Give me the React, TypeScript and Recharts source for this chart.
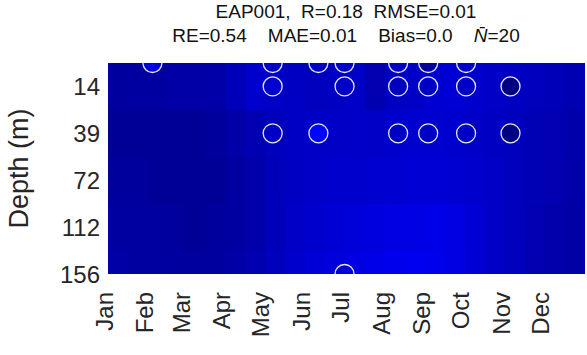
import React from "react";
import {
  ComposedChart,
  XAxis,
  YAxis,
  Scatter,
  ReferenceArea,
} from "recharts";

// axes
const months = ["Jan", "Feb", "Mar", "Apr", "May", "Jun", "Jul", "Aug", "Sep", "Oct", "Nov", "Dec"];
const monthStarts = [0, 31, 59, 90, 120, 151, 181, 212, 243, 273, 304, 334, 365];
const depthLabels = ["14", "39", "72", "112", "156"];
const depthLevels = [1, 2, 3, 4, 5];
const bandEdges = [0.5, 1.5, 2.5, 3.5, 4.5, 5];

// model field, half-month columns, one array per depth band
const field14 = [0.012, 0.013, 0.013, 0.015, 0.015, 0.016, 0.022, 0.03, 0.028, 0.026, 0.024, 0.026, 0.028, 0.019, 0.026, 0.028, 0.032, 0.033, 0.03, 0.028, 0.026, 0.024, 0.022, 0.02];
const field39 = [0.009, 0.009, 0.009, 0.009, 0.009, 0.011, 0.015, 0.02, 0.024, 0.027, 0.028, 0.028, 0.029, 0.028, 0.03, 0.031, 0.031, 0.03, 0.028, 0.026, 0.024, 0.021, 0.02, 0.017];
const field72 = [0.011, 0.011, 0.009, 0.009, 0.009, 0.009, 0.013, 0.017, 0.022, 0.026, 0.028, 0.03, 0.03, 0.031, 0.032, 0.033, 0.033, 0.032, 0.03, 0.028, 0.024, 0.021, 0.019, 0.016];
const field112 = [0.013, 0.013, 0.012, 0.011, 0.009, 0.011, 0.013, 0.017, 0.022, 0.028, 0.03, 0.033, 0.035, 0.037, 0.039, 0.04, 0.041, 0.038, 0.033, 0.028, 0.024, 0.02, 0.017, 0.015];
const field156 = [0.015, 0.013, 0.013, 0.012, 0.011, 0.012, 0.015, 0.019, 0.024, 0.03, 0.034, 0.036, 0.039, 0.041, 0.043, 0.044, 0.043, 0.039, 0.033, 0.028, 0.024, 0.019, 0.017, 0.015];

// observations
const obsDays = [34, 126, 161, 181, 222, 245, 274, 126, 181, 222, 245, 274, 308, 126, 161, 222, 245, 274, 308, 181];
const obsLevels = [0.5, 0.5, 0.5, 0.5, 0.5, 0.5, 0.5, 1, 1, 1, 1, 1, 1, 2, 2, 2, 2, 2, 2, 5];
const obsValues = [0.038, 0.028, 0.024, 0.028, 0.027, 0.013, 0.03, 0.03, 0.028, 0.024, 0.026, 0.028, 0.0, 0.028, 0.052, 0.027, 0.028, 0.028, 0.002, 0.035];

const cMin = 0;
const cMax = 0.4;

const jet = (v: number) => {
  const t = Math.max(0, Math.min(1, (v - cMin) / (cMax - cMin)));
  const c = (x: number) => Math.round(255 * Math.max(0, Math.min(1, x)));
  const r = c(1.5 - Math.abs(4 * t - 3));
  const g = c(1.5 - Math.abs(4 * t - 2));
  const b = c(1.5 - Math.abs(4 * t - 1));
  return `rgb(${r},${g},${b})`;
};

const fieldRows = [field14, field39, field72, field112, field156];

const columnEdges: number[] = [];
monthStarts.slice(0, 12).forEach((s, i) => {
  columnEdges.push(s, (s + monthStarts[i + 1]) / 2);
});
columnEdges.push(365);

const cells = fieldRows.flatMap((row, r) =>
  row.map((v, c) => ({
    x1: columnEdges[c],
    x2: columnEdges[c + 1],
    y1: bandEdges[r],
    y2: bandEdges[r + 1],
    v,
  }))
);

const obsData = obsDays.map((d, i) => ({ day: d, level: obsLevels[i], value: obsValues[i] }));

const font = "'Liberation Sans', Arial, sans-serif";

const MonthTick = (props: any) => {
  const { x, y, payload } = props;
  const idx = monthStarts.indexOf(payload.value);
  const tx = x - 4;
  const ty = y + 16;
  return (
    <text
      x={tx}
      y={ty}
      transform={`rotate(-90, ${tx}, ${ty})`}
      textAnchor="end"
      dominantBaseline="central"
      fontSize={24}
      fontFamily={font}
      fill="#262626"
    >
      {months[idx]}
    </text>
  );
};

const ObsDot = (props: any) => {
  const { cx, cy, payload } = props;
  return (
    <circle cx={cx} cy={cy} r={9.5} fill={jet(payload.value)} stroke="#e6e6f5" strokeWidth={1.3} />
  );
};

const Cell = (props: any) => {
  const { x, y, width, height, fill } = props;
  return <rect x={x} y={y} width={width} height={height} fill={fill} shapeRendering="crispEdges" />;
};

export default function App() {
  return (
    <div style={{ position: "absolute", left: 0, top: 0, width: 587, height: 355, background: "#fff" }}>
      <div
        style={{
          position: "absolute",
          left: 0,
          width: 692,
          top: 0,
          textAlign: "center",
          fontFamily: font,
          fontSize: 19,
          lineHeight: "24px",
          color: "#111",
          whiteSpace: "pre",
        }}
      >
        <div>{"EAP001,  R=0.18  RMSE=0.01"}</div>
        <div>
          {"RE=0.54    MAE=0.01    Bias=0.0    "}
          <i>{"N\u0304"}</i>
          {"=20"}
        </div>
      </div>
      <ComposedChart
        width={587}
        height={355}
        margin={{ top: 63, right: 2, bottom: 0, left: 0 }}
        style={{ position: "absolute", left: 0, top: 0 }}
      >
        <XAxis
          type="number"
          dataKey="day"
          domain={[0, 365]}
          ticks={monthStarts.slice(0, 12)}
          interval={0}
          allowDataOverflow
          axisLine={false}
          tickLine={false}
          tickSize={0}
          height={81}
          tick={<MonthTick />}
        />
        <YAxis
          type="number"
          dataKey="level"
          domain={[0.5, 5]}
          reversed
          ticks={depthLevels}
          interval={0}
          allowDataOverflow
          axisLine={false}
          tickLine={false}
          tickSize={0}
          tickMargin={8}
          width={108}
          tickFormatter={(v: number) => depthLabels[depthLevels.indexOf(v)]}
          tick={{ fontSize: 24, fontFamily: font, fill: "#262626" }}
          label={{
            value: "Depth (m)",
            angle: -90,
            position: "insideLeft",
            offset: 0,
            dx: 18,
            style: { fontSize: 27, fontFamily: font, fill: "#262626", textAnchor: "middle" },
          }}
        />
        {cells.map((c, i) => (
          <ReferenceArea
            key={i}
            x1={c.x1}
            x2={c.x2}
            y1={c.y1}
            y2={c.y2}
            fill={jet(c.v)}
            fillOpacity={1}
            ifOverflow="visible"
            shape={<Cell />}
          />
        ))}
        <Scatter data={obsData} dataKey="level" isAnimationActive={false} shape={<ObsDot />} />
      </ComposedChart>
    </div>
  );
}
